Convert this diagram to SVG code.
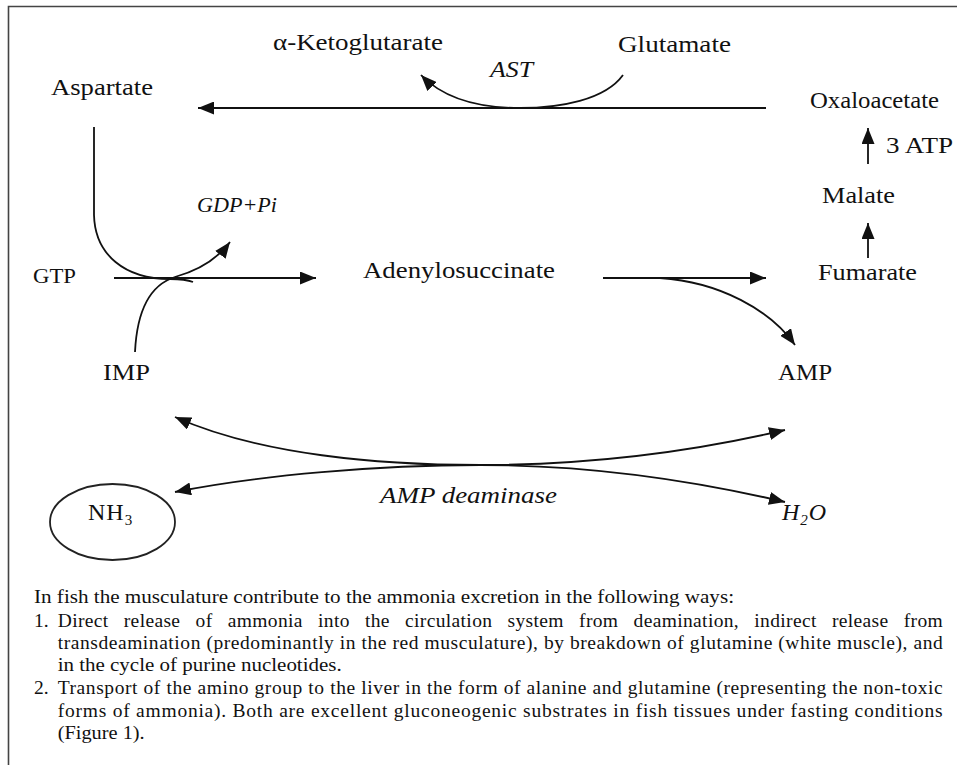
<svg xmlns="http://www.w3.org/2000/svg" width="957" height="765" viewBox="0 0 957 765">
<defs>
<style>
.lbl{font-family:"Liberation Serif","Times New Roman",serif;font-size:24px;fill:#111;}
.it{font-style:italic;}
.par{font-family:"Liberation Serif","Times New Roman",serif;font-size:19.5px;fill:#111;}
.c{fill:none;stroke:#111;stroke-width:1.8;}
.frame{fill:none;stroke:#444;stroke-width:1.6;}
</style>
<marker id="ah" viewBox="0 0 16 13" refX="16" refY="6.5" markerWidth="16" markerHeight="13" orient="auto-start-reverse" markerUnits="userSpaceOnUse">
<path d="M0,0 L16,6.5 L0,13 z" fill="#111"/>
</marker>
</defs>
<rect width="957" height="765" fill="#fff"/>
<path class="frame" d="M8.5,765 L8.5,6.5 L957,6.5"/>

<g id="connectors">
<path class="c" d="M766,108 L198,108" marker-end="url(#ah)"/>
<path class="c" d="M623,75 C605,100 560,108 520,108 C480,108 445,100 421,75" marker-end="url(#ah)"/>
<path class="c" d="M868,164 L868,128" marker-end="url(#ah)"/>
<path class="c" d="M868,258 L868,223" marker-end="url(#ah)"/>
<path class="c" d="M114,278 L316,278" marker-end="url(#ah)"/>
<path class="c" d="M94,127 L94,215 C95,255 125,279 170,279 C180,279 188,280 193,282"/>
<path class="c" d="M135,352 C137,310 150,285 175,277 C200,270 218,258 230,242" marker-end="url(#ah)"/>
<path class="c" d="M603,278 L766,278" marker-end="url(#ah)"/>
<path class="c" d="M603,278 L660,278 C720,282 770,310 795,345" marker-end="url(#ah)"/>
<path class="c" d="M175,417 C260,455 380,465 480,465 C600,465 700,450 785,430" marker-start="url(#ah)" marker-end="url(#ah)"/>
<path class="c" d="M175,492 C260,475 380,465 480,465 C600,465 700,482 785,502" marker-start="url(#ah)" marker-end="url(#ah)"/>
</g>

<g id="ketoglutarate"><text class="lbl" x="273" y="50" textLength="170" lengthAdjust="spacingAndGlyphs">α-Ketoglutarate</text></g>
<g id="glutamate"><text class="lbl" x="618" y="52" textLength="113" lengthAdjust="spacingAndGlyphs">Glutamate</text></g>
<g id="ast"><text class="lbl it" x="490" y="77" textLength="43" lengthAdjust="spacingAndGlyphs">AST</text></g>
<g id="aspartate"><text class="lbl" x="51" y="95" textLength="102" lengthAdjust="spacingAndGlyphs">Aspartate</text></g>
<g id="oxaloacetate"><text class="lbl" x="810" y="108" textLength="129" lengthAdjust="spacingAndGlyphs">Oxaloacetate</text></g>
<g id="atp"><text class="lbl" x="886" y="153" textLength="67" lengthAdjust="spacingAndGlyphs">3 ATP</text></g>
<g id="malate"><text class="lbl" x="822" y="203" textLength="73" lengthAdjust="spacingAndGlyphs">Malate</text></g>
<g id="gdp"><text class="lbl it" x="197" y="212" style="font-size:22px" textLength="80" lengthAdjust="spacingAndGlyphs">GDP+Pi</text></g>
<g id="gtp"><text class="lbl" x="33" y="283" style="font-size:20px" textLength="43" lengthAdjust="spacingAndGlyphs">GTP</text></g>
<g id="adenylosuccinate"><text class="lbl" x="363" y="278" textLength="192" lengthAdjust="spacingAndGlyphs">Adenylosuccinate</text></g>
<g id="fumarate"><text class="lbl" x="818" y="280" textLength="99" lengthAdjust="spacingAndGlyphs">Fumarate</text></g>
<g id="imp"><text class="lbl" x="103" y="380" textLength="47" lengthAdjust="spacingAndGlyphs">IMP</text></g>
<g id="amp"><text class="lbl" x="778" y="380" textLength="54" lengthAdjust="spacingAndGlyphs">AMP</text></g>
<g id="ampdeaminase"><text class="lbl it" x="380" y="503" textLength="177" lengthAdjust="spacingAndGlyphs">AMP deaminase</text></g>
<g id="h2o"><text class="lbl it" x="782" y="520" letter-spacing="1">H<tspan dy="5" style="font-size:15px">2</tspan><tspan dy="-5">O</tspan></text></g>
<g id="nh3">
<ellipse cx="112.5" cy="522" rx="62.5" ry="38" fill="none" stroke="#222" stroke-width="1.8"/>
<text class="lbl" x="88" y="520" letter-spacing="1">NH<tspan dy="5" style="font-size:15px">3</tspan></text>
</g>

<g id="caption">
<text class="par" x="34" y="603" textLength="700" lengthAdjust="spacingAndGlyphs">In fish the musculature contribute to the ammonia excretion in the following ways:</text>
<text class="par" x="34" y="626.5">1.</text>
<text class="par" x="57.7" y="626.5" word-spacing="10" textLength="885" lengthAdjust="spacing">Direct release of ammonia into the circulation system from deamination, indirect release from</text>
<text class="par" x="57.7" y="649" textLength="885" lengthAdjust="spacing">transdeamination (predominantly in the red musculature), by breakdown of glutamine (white muscle), and</text>
<text class="par" x="57.7" y="670.5" textLength="284" lengthAdjust="spacingAndGlyphs">in the cycle of purine nucleotides.</text>
<text class="par" x="34" y="693.5">2.</text>
<text class="par" x="57.7" y="693.5" textLength="885" lengthAdjust="spacing">Transport of the amino group to the liver in the form of alanine and glutamine (representing the non-toxic</text>
<text class="par" x="57.7" y="716.5" textLength="885" lengthAdjust="spacing">forms of ammonia). Both are excellent gluconeogenic substrates in fish tissues under fasting conditions</text>
<text class="par" x="57.7" y="738.5" textLength="87" lengthAdjust="spacingAndGlyphs">(Figure 1).</text>
</g>
</svg>
